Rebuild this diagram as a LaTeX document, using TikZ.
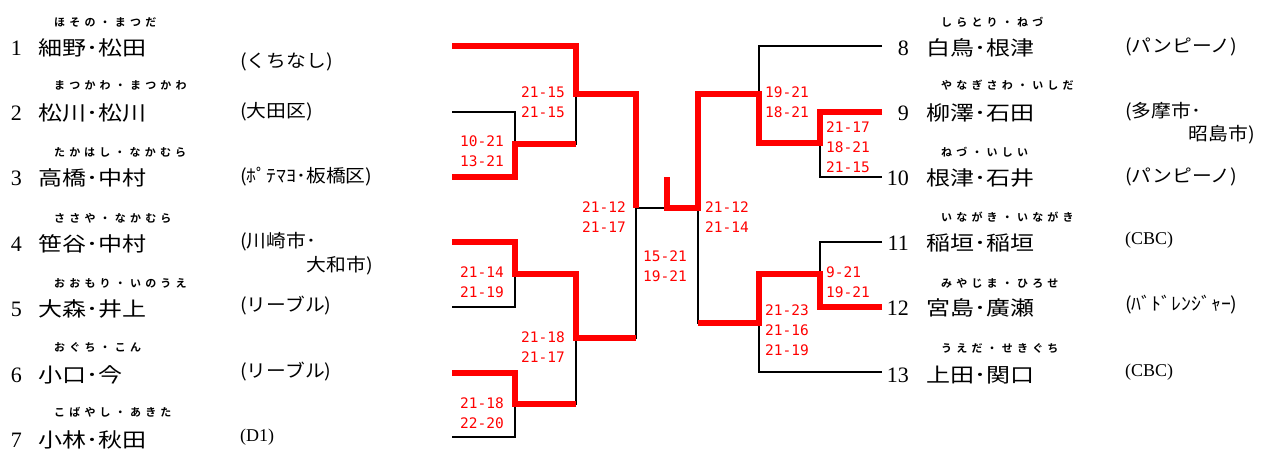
\documentclass[tikz,border=0pt]{standalone}
\usepackage{fontspec}
\setmainfont{Liberation Serif}
\newfontfamily\jp[FakeStretch=1.2]{Noto Sans CJK JP}
\newfontfamily\clubfont[FakeStretch=1.1]{Noto Sans CJK JP}
\newfontfamily\kanafont[LetterSpace=38]{Noto Sans CJK JP Bold}
\newfontfamily\scorefont{DejaVu Sans Mono}

\begin{document}
\begin{tikzpicture}[
  x=1pt, y=-1pt,
  num/.style={anchor=east, inner sep=0, font=\fontsize{22}{22}\selectfont},
  pname/.style={anchor=west, inner sep=0, font=\jp\fontsize{20}{24}\selectfont},
  kana/.style={anchor=west, inner sep=0, font=\kanafont\fontsize{11}{12}\selectfont},
  club/.style={anchor=west, inner sep=0, font=\clubfont\fontsize{18}{20}\selectfont},
  score/.style={anchor=north west, inner sep=0, align=left, text=red, font=\scorefont\fontsize{14.5}{20}\selectfont},
  lose/.style={line width=2pt, black},
  win/.style={line width=6pt, red}
]
\useasboundingbox (0,0) rectangle (1261,450);

% left block
\node[num] (n1) at (22,48) {1};
\node[pname] (p1) at (38,48) {細野･松田};
\node[kana] (k1) at (54,22) {ほその・まつだ};
\node[club] (c1) at (240,62) {(くちなし)};
\node[num] (n2) at (22,113) {2};
\node[pname] (p2) at (38,113) {松川･松川};
\node[kana] (k2) at (54,85) {まつかわ・まつかわ};
\node[club] (c2) at (240,112) {(大田区)};
\node[num] (n3) at (22,178) {3};
\node[pname] (p3) at (38,178) {高橋･中村};
\node[kana] (k3) at (54,152) {たかはし・なかむら};
\node[club] (c3) at (240,177) {(ﾎﾟﾃﾏﾖ･板橋区)};
\node[num] (n4) at (22,244) {4};
\node[pname] (p4) at (38,244) {笹谷･中村};
\node[kana] (k4) at (54,218) {ささや・なかむら};
\node[club] (c4) at (240,242) {(川崎市･};
\node[club, anchor=east] (c4b) at (373,266) {大和市)};
\node[num] (n5) at (22,309) {5};
\node[pname] (p5) at (38,309) {大森･井上};
\node[kana] (k5) at (54,283) {おおもり・いのうえ};
\node[club] (c5) at (240,306) {(リーブル)};
\node[num] (n6) at (22,375) {6};
\node[pname] (p6) at (38,375) {小口･今};
\node[kana] (k6) at (54,347) {おぐち・こん};
\node[club] (c6) at (240,372) {(リーブル)};
\node[num] (n7) at (22,440) {7};
\node[pname] (p7) at (38,440) {小林･秋田};
\node[kana] (k7) at (54,412) {こばやし・あきた};
\node[club] (c7) at (240,437) {\rmfamily(D1)};

% right block
\node[num] (n8) at (909,48) {8};
\node[pname] (p8) at (926,48) {白鳥･根津};
\node[kana] (k8) at (941,22) {しらとり・ねづ};
\node[club] (c8) at (1125,47) {(パンピーノ)};
\node[num] (n9) at (909,113) {9};
\node[pname] (p9) at (926,113) {柳澤･石田};
\node[kana] (k9) at (941,85) {やなぎさわ・いしだ};
\node[club] (c9) at (1125,112) {(多摩市･};
\node[club, anchor=east] (c9b) at (1255,135) {昭島市)};
\node[num] (n10) at (909,178) {10};
\node[pname] (p10) at (926,178) {根津･石井};
\node[kana] (k10) at (941,152) {ねづ・いしい};
\node[club] (c10) at (1125,177) {(パンピーノ)};
\node[num] (n11) at (909,243) {11};
\node[pname] (p11) at (926,243) {稲垣･稲垣};
\node[kana] (k11) at (941,217) {いながき・いながき};
\node[club] (c11) at (1125,240) {\rmfamily(CBC)};
\node[num] (n12) at (909,308) {12};
\node[pname] (p12) at (926,308) {宮島･廣瀬};
\node[kana] (k12) at (941,283) {みやじま・ひろせ};
\node[club] (c12) at (1125,305) {(ﾊﾞﾄﾞﾚﾝｼﾞｬｰ)};
\node[num] (n13) at (909,375) {13};
\node[pname] (p13) at (926,375) {上田･関口};
\node[kana] (k13) at (941,348) {うえだ・せきぐち};
\node[club] (c13) at (1125,372) {\rmfamily(CBC)};

% bracket ends and joints
\coordinate (e1) at (452,46);
\coordinate (e2) at (452,112);
\coordinate (e3) at (452,177);
\coordinate (e4) at (452,242);
\coordinate (e5) at (452,307);
\coordinate (e6) at (452,373);
\coordinate (e7) at (452,437);
\coordinate (e8) at (882,46);
\coordinate (e9) at (882,112);
\coordinate (e10) at (882,177);
\coordinate (e11) at (882,242);
\coordinate (e12) at (882,307);
\coordinate (e13) at (882,372);
\coordinate (j23) at (515,144);
\coordinate (j123) at (576,94);
\coordinate (j45) at (515,274);
\coordinate (j67) at (515,404);
\coordinate (j4567) at (576,338);
\coordinate (jL) at (636,208);
\coordinate (champ) at (667,177);
\coordinate (jR) at (698,208);
\coordinate (j910) at (820,143);
\coordinate (j8910) at (759,94);
\coordinate (j1112) at (820,274);
\coordinate (j1113) at (759,323);

\draw[lose] (e2) -| (j23) |- (e3);
\draw[lose] (e1) -| (j123) |- (j23);
\draw[lose] (e4) -| (j45) |- (e5);
\draw[lose] (e6) -| (j67) |- (e7);
\draw[lose] (j45) -| (j4567) |- (j67);
\draw[lose] (j123) -| (jL) |- (j4567);
\draw[lose] (jL) -- (jR);
\draw[lose] (e8) -| (j8910) |- (j910);
\draw[lose] (e9) -| (j910) |- (e10);
\draw[lose] (e11) -| (j1112) |- (e12);
\draw[lose] (j1112) -| (j1113) |- (e13);
\draw[lose] (j8910) -| (jR) |- (j1113);

% winners
\draw[win] (e1) -| (j123) -| (jL);
\draw[win] (e3) -| (j23) -- (j23 -| j123);
\draw[win] (e4) -| (j45) -| (j4567) -- (j4567 -| jL);
\draw[win] (e6) -| (j67) -- (j67 -| j4567);
\draw[win] (e9) -| (j910) -| (j8910) -| (jR) -| (champ);
\draw[win] (e12) -| (j1112) -| (j1113) -- (j1113 -| jR);

% scores
\node[score] (s23) at (460,136) {10-21\\13-21};
\node[score] (s123) at (521,87) {21-15\\21-15};
\node[score] (s45) at (460,267) {21-14\\21-19};
\node[score] (s67) at (460,398) {21-18\\22-20};
\node[score] (s4567) at (521,332) {21-18\\21-17};
\node[score] (sL) at (582,202) {21-12\\21-17};
\node[score] (sF) at (643,251) {15-21\\19-21};
\node[score] (sR) at (705,202) {21-12\\21-14};
\node[score] (s8910) at (765,87) {19-21\\18-21};
\node[score] (s910) at (826,122) {21-17\\18-21\\21-15};
\node[score] (s1112) at (826,267) {9-21\\19-21};
\node[score] (s1113) at (765,305) {21-23\\21-16\\21-19};
\end{tikzpicture}
\end{document}
